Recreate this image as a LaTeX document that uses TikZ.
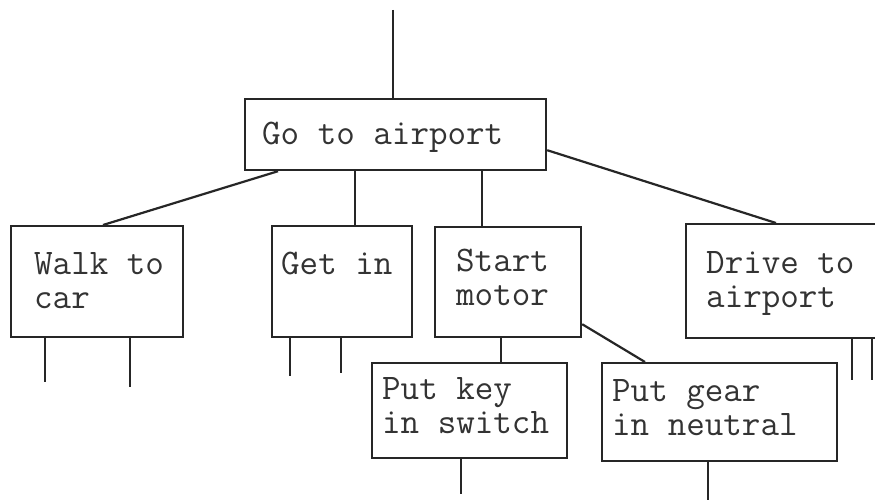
\documentclass[tikz,border=0pt]{standalone}
\usetikzlibrary{calc}
\begin{document}
\begin{tikzpicture}[x=1pt,y=-1pt,
  box/.style={draw=black!85, line width=2.2pt, rectangle, inner sep=0pt, anchor=north west},
  lbl/.style={anchor=north west, inner sep=0pt, align=left, font=\ttfamily\fontsize{36}{34}\selectfont, text=black!80},
  link/.style={draw=black!85, line width=2.2pt}]
\useasboundingbox (0,0) rectangle (875,500);
\fill[white] (0,0) rectangle (875,500);

% boxes
\node[box, minimum width=301pt, minimum height=71pt] (go) at (244,98) {};
\node[box, minimum width=172pt, minimum height=111pt] (walk) at (10,225) {};
\node[box, minimum width=140pt, minimum height=111pt] (getin) at (271,225) {};
\node[box, minimum width=146pt, minimum height=110pt] (start) at (434,226) {};
\node[box, minimum width=220pt, minimum height=114pt] (drive) at (685,223) {};
\node[box, minimum width=195pt, minimum height=95pt] (key) at (371,362) {};
\node[box, minimum width=235pt, minimum height=98pt] (gear) at (601,362) {};

% labels
\node[lbl] (tgo) at (262,122) {Go to airport};
\node[lbl] (twalk) at (34,252) {Walk to\\car};
\node[lbl] (tgetin) at (281,252) {Get in};
\node[lbl] (tstart) at (456,249) {Start\\motor};
\node[lbl] (tdrive) at (706,251) {Drive to\\airport};
\node[lbl] (tkey) at (382,377) {Put key\\in switch};
\node[lbl] (tgear) at (612,379) {Put gear\\in neutral};

% connectors
\coordinate (top) at (393,10);
\draw[link] (top) -- (top |- go.north);
\draw[link] ($(go.south west)+(34,0)$) -- ($(walk.north west)+(93,0)$);
\path ($(getin.north west)+(84,0)$) coordinate (g1);
\draw[link] (g1 |- go.south) -- (g1);
\path ($(start.north west)+(48,0)$) coordinate (s1);
\draw[link] (s1 |- go.south) -- (s1);
\draw[link] ($(go.south east)+(0,-21)$) -- ($(drive.north west)+(91,0)$);
\path ($(start.south west)+(67,0)$) coordinate (k1);
\draw[link] (k1) -- (k1 |- key.north);
\draw[link] ($(start.south east)+(0,-14)$) -- ($(gear.north west)+(44,0)$);

% stubs
\draw[link] (walk.south west) ++(35,0) -- ++(0,44);
\draw[link] (walk.south west) ++(120,0) -- ++(0,49);
\draw[link] (getin.south west) ++(19,0) -- ++(0,38);
\draw[link] (getin.south west) ++(70,0) -- ++(0,35);
\draw[link] (drive.south west) ++(167,0) -- ++(0,41);
\draw[link] (drive.south west) ++(187,0) -- ++(0,41);
\draw[link] (key.south west) ++(90,0) -- ++(0,35);
\draw[link] (gear.south west) ++(107,0) -- ++(0,40);
\end{tikzpicture}
\end{document}
